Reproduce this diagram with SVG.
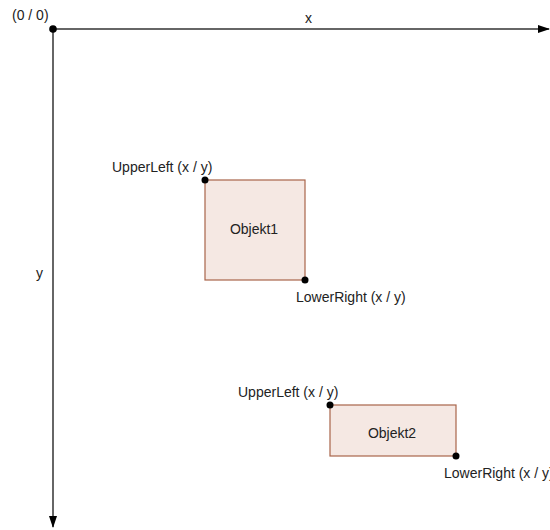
<svg xmlns="http://www.w3.org/2000/svg" width="550" height="530" viewBox="0 0 550 530">
  <style>
    text { font-family: "Liberation Sans", Arial, sans-serif; font-size: 14px; fill: #222; }
    .axis { stroke: #333; stroke-width: 1.5; fill: none; }
    .obj { fill: #f5e8e3; stroke: #a8644a; stroke-width: 1.2; }
    .pt { fill: #000; }
  </style>
  <defs>
    <marker id="arrow" viewBox="0 0 12 10" refX="11" refY="5" markerWidth="12" markerHeight="10" markerUnits="userSpaceOnUse" orient="auto">
      <path d="M0,1 L12,5 L0,9 Z" fill="#000"/>
    </marker>
  </defs>
  <rect width="550" height="530" fill="#fff"/>

  <!-- coordinate axes -->
  <g id="connectors">
    <line class="axis" x1="53" y1="29" x2="549" y2="29" marker-end="url(#arrow)"/>
    <line class="axis" x1="53" y1="29" x2="53" y2="527" marker-end="url(#arrow)"/>
  </g>

  <g id="origin">
    <circle class="pt" cx="53" cy="29" r="3.8"/>
    <text x="12" y="20">(0 / 0)</text>
  </g>
  <g id="axis-x"><text x="305" y="23">x</text></g>
  <g id="axis-y"><text x="36" y="278">y</text></g>

  <g id="objekt1">
    <rect class="obj" x="205" y="180" width="100" height="100"/>
    <text x="254" y="234" text-anchor="middle">Objekt1</text>
    <circle class="pt" cx="205" cy="180" r="3.5"/>
    <circle class="pt" cx="305" cy="280" r="3.5"/>
    <text x="112" y="172">UpperLeft (x / y)</text>
    <text x="296" y="302">LowerRight (x / y)</text>
  </g>

  <g id="objekt2">
    <rect class="obj" x="330" y="405" width="126" height="51"/>
    <text x="392" y="438" text-anchor="middle">Objekt2</text>
    <circle class="pt" cx="330" cy="405" r="3.5"/>
    <circle class="pt" cx="456" cy="456" r="3.5"/>
    <text x="238" y="397">UpperLeft (x / y)</text>
    <text x="444" y="478">LowerRight (x / y)</text>
  </g>
</svg>
